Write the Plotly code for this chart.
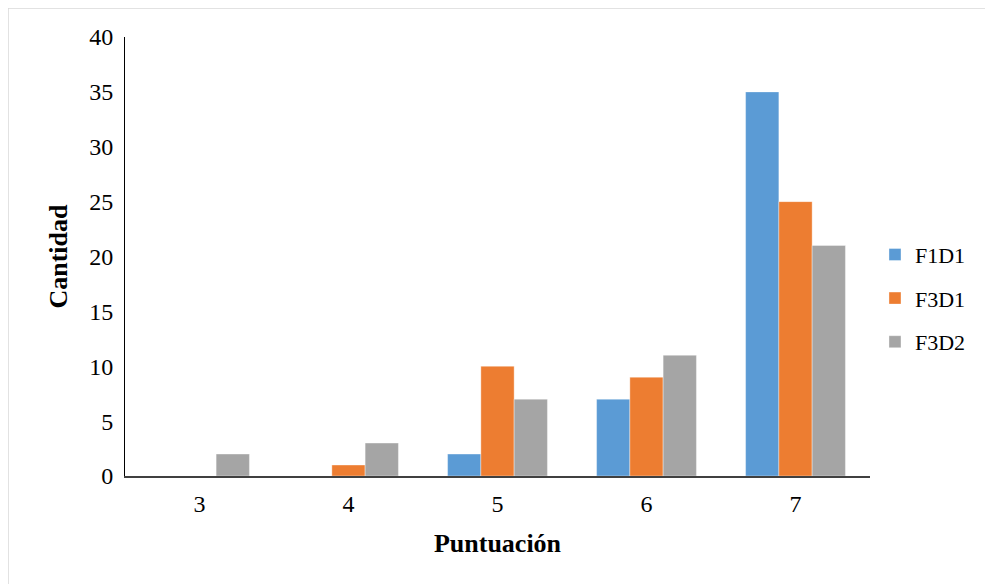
import plotly.graph_objects as go

categories = ["3", "4", "5", "6", "7"]
f1d1 = [0, 0, 2, 7, 35]
f3d1 = [0, 1, 10, 9, 25]
f3d2 = [2, 3, 7, 11, 21]
y_ticks = [0, 5, 10, 15, 20, 25, 30, 35, 40]

series = [("F1D1", f1d1, "#5B9BD5"), ("F3D1", f3d1, "#ED7D31"), ("F3D2", f3d2, "#A5A5A5")]

fig = go.Figure()
for name, vals, color in series:
    fig.add_trace(go.Bar(
        x=categories, y=vals, name=name, legendgroup=name,
        marker=dict(color=color, line=dict(color="rgba(255,255,255,0.6)", width=0.6)),
    ))

# page body has an 8px margin, so the figure is sized to fit the window
W, H = 985, 576
L, R, T, B = 117, 123, 29, 108
pw, ph = W - L - R, H - T - B

fig.update_layout(
    width=W, height=H,
    margin=dict(l=L, r=R, t=T, b=B),
    paper_bgcolor="white", plot_bgcolor="white",
    barmode="group", bargap=0.33, bargroupgap=0,
    font=dict(family="Liberation Serif, Times New Roman, serif", size=24, color="#000"),
    xaxis=dict(
        type="category", showgrid=False, showline=True, linecolor="#404040", linewidth=1.5,
        ticks="", ticklabelstandoff=5, tickfont=dict(size=24),
        title=dict(text="<b>Puntuación</b>", font=dict(size=26), standoff=18),
    ),
    yaxis=dict(
        range=[0, 40], tickvals=y_ticks, showgrid=False, showline=True, linecolor="#000",
        linewidth=1, ticks="", ticklabelstandoff=6, tickfont=dict(size=24), zeroline=False,
        title=dict(text="<b>Cantidad</b>", font=dict(size=26), standoff=14),
    ),
    legend=dict(
        x=1.0067, xanchor="left", y=0.405, yanchor="middle",
        font=dict(size=22), tracegroupgap=12, traceorder="grouped",
        itemwidth=30,
    ),
    shapes=[dict(
        type="rect", xref="paper", yref="paper",
        x0=-L / pw, x1=1.5, y0=-0.5, y1=1 + T / ph,
        line=dict(color="#D9D9D9", width=1.5), fillcolor="rgba(0,0,0,0)", layer="below",
    )],
)

fig.write_html("out.html")
